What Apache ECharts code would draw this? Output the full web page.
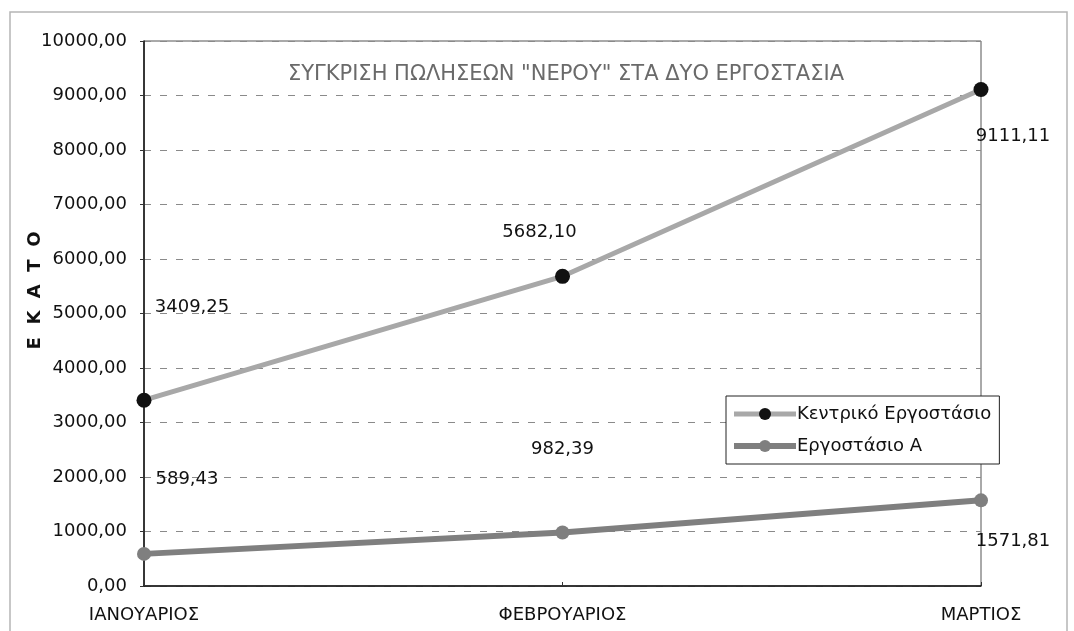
<!DOCTYPE html>
<html>
<head>
<meta charset="utf-8">
<script src="https://cdn.jsdelivr.net/npm/echarts@6/dist/echarts.min.js"></script>
<style>
  html, body { margin: 0; padding: 0; background: #ffffff; }
  #chart { width: 1074px; height: 631px; }
</style>
</head>
<body>
<div id="chart"></div>
<script>
// Months on the category axis
const months = ['ΙΑΝΟΥΑΡΙΟΣ', 'ΦΕΒΡΟΥΑΡΙΟΣ', 'ΜΑΡΤΙΟΣ'];
// Sales per factory (hundreds)
const centralFactory = [3409.25, 5682.10, 9111.11];
const factoryA = [589.43, 982.39, 1571.81];
const seriesNames = ['Κεντρικό Εργοστάσιο', 'Εργοστάσιο Α'];
const chartTitle = 'ΣΥΓΚΡΙΣΗ ΠΩΛΗΣΕΩΝ "ΝΕΡΟΥ" ΣΤΑ ΔΥΟ ΕΡΓΟΣΤΑΣΙΑ';
const axisName = 'Ε  Κ  Α  Τ  Ο';

// Where each value label sits relative to its point
const centralLabelOffsets = [[48, -93], [-23, -44], [32, 47]];
const factoryALabelOffsets = [[43, -75], [0, -83], [32, 41]];

const fmt = v => v.toFixed(2).replace('.', ',');
const font = 'DejaVu Sans, Verdana, sans-serif';

const centralColors = { line: '#a8a8a8', marker: '#111111' };
const factoryAColors = { line: '#7f7f7f', marker: '#7f7f7f' };

function withLabels(values, offsets) {
  return values.map((v, i) => ({
    value: v,
    label: { offset: offsets[i] }
  }));
}

const chart = echarts.init(document.getElementById('chart'));
chart.setOption({
  backgroundColor: '#ffffff',
  animation: false,
  title: {
    text: chartTitle,
    left: 561,
    top: 59,
    textAlign: 'center',
    textStyle: { fontFamily: font, fontSize: 21, fontWeight: 'normal', color: '#6a6a6a' }
  },
  grid: {
    left: 144, right: 93, top: 41, bottom: 45,
    show: true, borderColor: '#555', borderWidth: 1, backgroundColor: '#ffffff'
  },
  legend: {
    orient: 'vertical',
    left: 726, top: 396,
    padding: [9, 8, 9, 5],
    itemGap: 14,
    itemWidth: 62, itemHeight: 15,
    backgroundColor: '#ffffff',
    borderColor: '#222', borderWidth: 1, borderRadius: 0,
    textStyle: { fontFamily: font, fontSize: 18, color: '#111', padding: [0, 0, 0, -4] },
    data: [
      { name: seriesNames[0], lineStyle: { width: 5, color: centralColors.line } },
      { name: seriesNames[1], lineStyle: { width: 6, color: factoryAColors.line } }
    ]
  },
  xAxis: {
    type: 'category',
    data: months,
    boundaryGap: false,
    axisLine: { lineStyle: { color: '#111', width: 1.5 } },
    axisTick: { show: true, inside: true, length: 4, lineStyle: { color: '#333' } },
    axisLabel: { fontFamily: font, fontSize: 18, color: '#111', margin: 20 },
    splitLine: { show: false }
  },
  yAxis: {
    type: 'value',
    min: 0, max: 10000, interval: 1000,
    name: axisName,
    nameLocation: 'middle',
    nameRotate: 90,
    nameGap: 100,
    nameMoveOverlap: false,
    nameTextStyle: { fontFamily: font, fontSize: 18, fontWeight: 'bold', color: '#111', padding: [0, 0, 0, 46] },
    axisLine: { show: true, lineStyle: { color: '#111', width: 1.5 } },
    axisTick: { show: true, length: 4, lineStyle: { color: '#333' } },
    axisLabel: { fontFamily: font, fontSize: 18, color: '#111', margin: 17, formatter: v => fmt(v) },
    splitLine: { show: true, lineStyle: { color: '#8a8a8a', type: [7, 9], width: 1 } }
  },
  series: [
    {
      name: seriesNames[0],
      type: 'line',
      data: withLabels(centralFactory, centralLabelOffsets),
      symbol: 'circle',
      symbolSize: 15,
      lineStyle: { color: centralColors.line, width: 5 },
      itemStyle: { color: centralColors.marker },
      label: {
        show: true, position: 'inside',
        fontFamily: font, fontSize: 18, color: '#111',
        formatter: p => fmt(p.value)
      },
      z: 3
    },
    {
      name: seriesNames[1],
      type: 'line',
      data: withLabels(factoryA, factoryALabelOffsets),
      symbol: 'circle',
      symbolSize: 14,
      lineStyle: { color: factoryAColors.line, width: 6 },
      itemStyle: { color: factoryAColors.marker },
      label: {
        show: true, position: 'inside',
        fontFamily: font, fontSize: 18, color: '#111',
        formatter: p => fmt(p.value)
      },
      z: 2
    }
  ],
  graphic: [
    {
      type: 'rect',
      shape: { x: 10, y: 12, width: 1057, height: 640 },
      style: { fill: null, stroke: '#b5b5b5', lineWidth: 1.5 },
      silent: true, z: -1
    }
  ]
});
</script>
</body>
</html>
